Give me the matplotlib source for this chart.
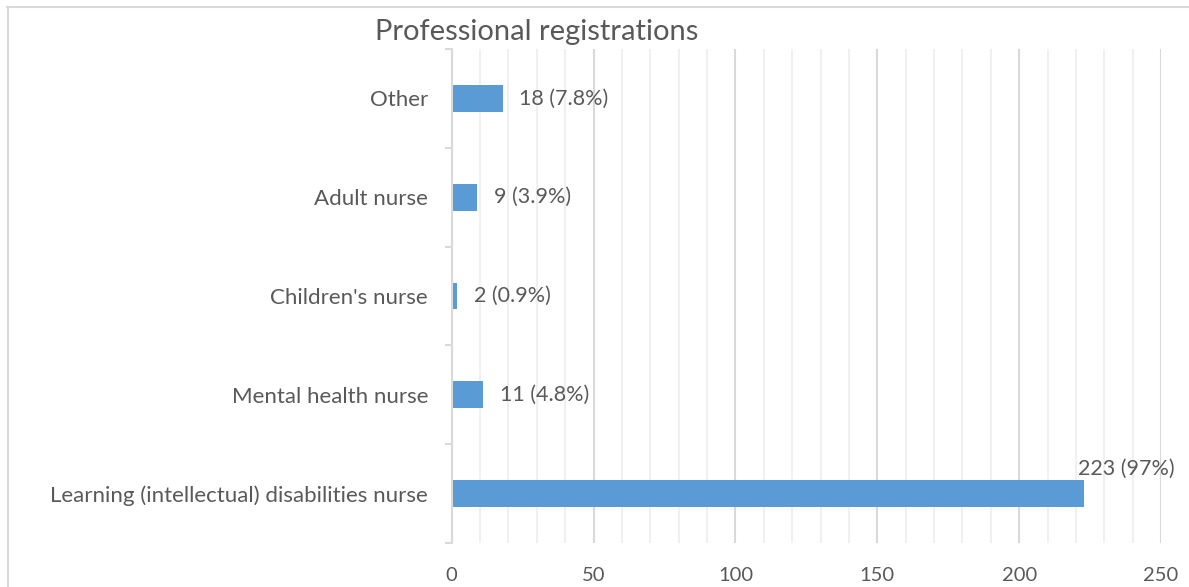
import matplotlib.pyplot as plt
from matplotlib.lines import Line2D
from matplotlib.ticker import MultipleLocator, FixedLocator

plt.rcParams['font.family'] = ['Lato', 'DejaVu Sans']

# data, bottom to top
categories = ["Learning (intellectual) disabilities nurse", "Mental health nurse",
              "Children's nurse", "Adult nurse", "Other"]
counts = [223, 11, 2, 9, 18]
labels = ["223 (97%)", "11 (4.8%)", "2 (0.9%)", "9 (3.9%)", "18 (7.8%)"]

text_col = "#595959"
bar_col = "#5b9bd5"

fig = plt.figure(figsize=(11.89, 5.87), dpi=100)
ax = fig.add_axes([0.3799, 0.0750, 0.9765 - 0.3799, 0.9165 - 0.0750])

ypos = list(range(len(categories)))
ax.barh(ypos, counts, height=0.27, color=bar_col, zorder=3)

ax.set_xlim(0, 250)
ax.set_ylim(-0.5, len(categories) - 0.5)

ax.xaxis.set_major_locator(MultipleLocator(50))
ax.xaxis.set_minor_locator(MultipleLocator(10))
ax.grid(axis="x", which="major", color="#d9d9d9", linewidth=1.5, zorder=0)
ax.grid(axis="x", which="minor", color="#f0f0f0", linewidth=1.5, zorder=0)
ax.tick_params(axis="x", which="both", length=0, labelsize=14.5,
               labelcolor=text_col, pad=17)

ax.set_yticks(ypos)
ax.set_yticklabels(categories)
ax.yaxis.set_minor_locator(FixedLocator([i - 0.5 for i in range(len(categories) + 1)]))
ax.tick_params(axis="y", which="major", length=0, labelsize=16,
               labelcolor=text_col, pad=17)
ax.tick_params(axis="y", which="minor", length=5, width=1.5, color="#d9d9d9")

for side in ["top", "right", "bottom"]:
    ax.spines[side].set_visible(False)
ax.spines["left"].set_color("#d9d9d9")
ax.spines["left"].set_linewidth(1.5)
ax.spines["left"].set_zorder(4)

for y, v, lab in zip(ypos, counts, labels):
    if v > 200:
        ax.annotate(lab, (v, y), xytext=(-5, 18), textcoords="offset points",
                    ha="left", va="center", fontsize=15.5, color=text_col,
                    annotation_clip=False)
    else:
        ax.annotate(lab, (v, y), xytext=(12, 0), textcoords="offset points",
                    ha="left", va="center", fontsize=15.5, color=text_col)

fig.text(537 / 1189, 1 - 32 / 587, "Professional registrations", ha="center",
         va="center", fontsize=21, color=text_col)

# chart border (cropped)
fig.add_artist(Line2D([7 / 1189, 1], [1 - 7 / 587] * 2, color="#d9d9d9",
                      linewidth=1.5, transform=fig.transFigure))
fig.add_artist(Line2D([7.5 / 1189] * 2, [0, 1 - 7 / 587], color="#d9d9d9",
                      linewidth=1.5, transform=fig.transFigure))

fig.savefig("out.png", dpi=100)
